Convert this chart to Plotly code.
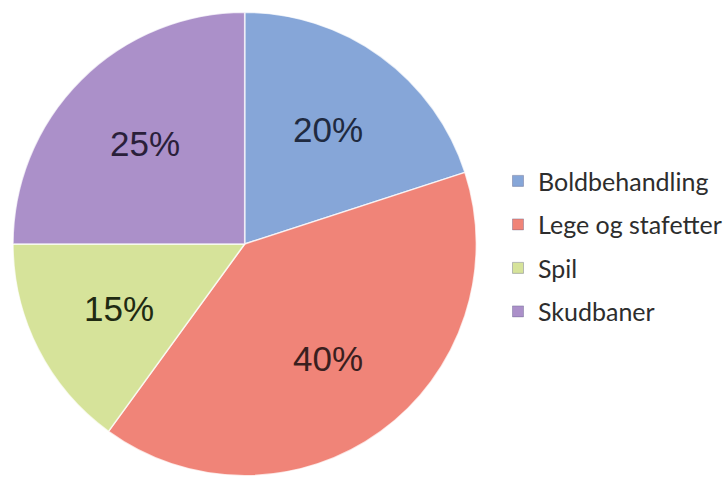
import math
import plotly.graph_objects as go

# Activity shares
categories = ["Boldbehandling", "Lege og stafetter", "Spil", "Skudbaner"]
shares = [20, 40, 15, 25]
colors = ["#86a6d8", "#f08478", "#d6e39a", "#ab90c9"]
label_colors = ["#1f2a40", "#3a1f1f", "#1f2a12", "#2a1f3a"]

W, H = 727, 477

# Pie placement in paper coordinates
dom_x = [13 / W, 477 / W]
dom_y = [1 / H, 1 - 12 / H]

fig = go.Figure()

fig.add_trace(go.Pie(
    labels=categories,
    values=shares,
    sort=False,
    direction="clockwise",
    rotation=0,
    marker=dict(colors=colors, line=dict(color="rgba(255,255,255,0.75)", width=1.5)),
    textinfo="none",
    domain=dict(x=dom_x, y=dom_y),
    showlegend=False,
    hoverinfo="label+percent",
))

# Percentage labels placed along each slice's bisector
cx = (dom_x[0] + dom_x[1]) / 2 * W
cy = (1 - (dom_y[0] + dom_y[1]) / 2) * H
r = min((dom_x[1] - dom_x[0]) * W, (dom_y[1] - dom_y[0]) * H) / 2
total = sum(shares)
cum = 0
for v, tc in zip(shares, label_colors):
    mid = (cum + v / 2) / total * 2 * math.pi
    cum += v
    px = cx + 0.61 * r * math.sin(mid)
    py = cy - 0.61 * r * math.cos(mid)
    fig.add_annotation(
        x=px / W, y=1 - py / H, xref="paper", yref="paper",
        xanchor="center", yanchor="middle",
        text=f"{v}%", showarrow=False,
        font=dict(family="Liberation Sans, Arial, sans-serif", size=35, color=tc),
    )

# Legend entries, one group each so the entries are spaced apart
for name, col in zip(categories, colors):
    fig.add_trace(go.Scatter(
        x=[None], y=[None], mode="markers", name=name, legendgroup=name,
        marker=dict(symbol="square", size=11, color=col,
                    line=dict(color="rgba(80,80,120,0.35)", width=1)),
        hoverinfo="skip",
    ))

fig.update_layout(
    width=W, height=H,
    margin=dict(l=0, r=0, t=0, b=0),
    paper_bgcolor="white",
    plot_bgcolor="white",
    xaxis=dict(visible=False),
    yaxis=dict(visible=False),
    legend=dict(
        x=0.686, y=0.484, xanchor="left", yanchor="middle",
        font=dict(family="Lato, Open Sans, sans-serif", size=25, color="#2d2d2d"),
        tracegroupgap=8,
        itemwidth=30,
        bgcolor="rgba(0,0,0,0)",
    ),
)

fig.write_html("out.html")
